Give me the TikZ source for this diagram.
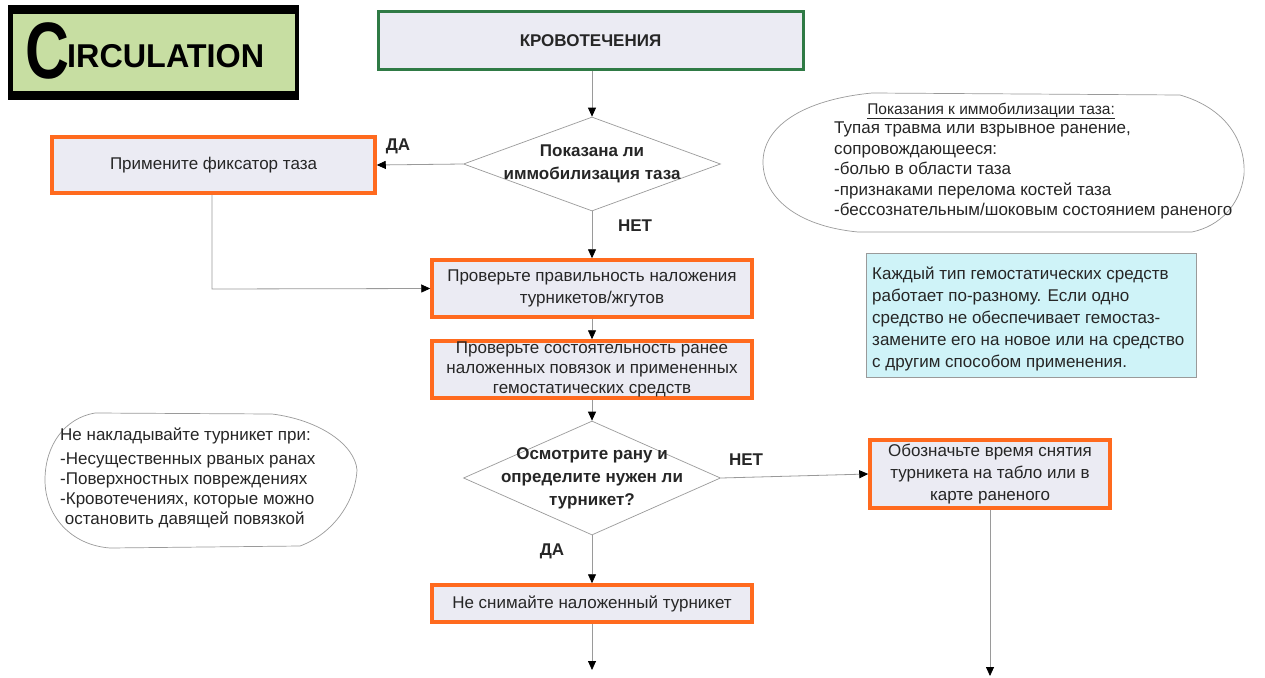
\documentclass[tikz,border=0pt]{standalone}
\usepackage{fontspec}
\usepackage{graphicx}
\setmainfont{Liberation Sans}
\usetikzlibrary{shapes.geometric,arrows.meta}

\definecolor{boxfill}{HTML}{EBEBF3}
\definecolor{orangeedge}{HTML}{FF6A1E}
\definecolor{greenedge}{HTML}{2F7A45}
\definecolor{logofill}{HTML}{C7DEA2}
\definecolor{notefill}{HTML}{CFF3F8}
\definecolor{linegray}{HTML}{9A9A9A}
\definecolor{txt}{HTML}{262626}

\tikzset{
  every node/.style={text=txt, inner sep=0pt},
  stepbox/.style={draw=orangeedge, line width=3.5pt, fill=boxfill, align=center,
    font=\fontsize{17}{22}\selectfont},
  titlebox/.style={draw=greenedge, line width=3pt, fill=boxfill,
    font=\fontsize{17}{20}\selectfont\bfseries},
  decision/.style={diamond, draw=linegray, line width=0.7pt, fill=white},
  decisiontext/.style={align=center, font=\fontsize{17}{23}\selectfont\bfseries},
  answer/.style={font=\fontsize{17}{19}\selectfont\bfseries},
  flow/.style={draw=linegray, line width=0.8pt, -{Triangle[length=9pt,width=8pt,color=black]}},
  note/.style={draw=linegray, line width=0.7pt, fill=white},
  notetext/.style={align=left, font=\fontsize{17}{20.5}\selectfont},
}

\begin{document}
\begin{tikzpicture}[x=1pt,y=-1pt]
  \useasboundingbox (0,0) rectangle (1265,677);
  \fill[white] (0,0) rectangle (1265,677);

  % logo
  \node[fill=black, minimum width=291pt, minimum height=95pt] (logo) at (153,52.5) {};
  \node[fill=logofill, minimum width=282pt, minimum height=76pt] (logoin) at (154,52.5) {};
  \node[anchor=base west, text=black] (logoC) at (25,78)
    {\scalebox{0.76}[1]{\fontsize{80}{80}\selectfont\bfseries C}};
  \node[anchor=base west, text=black] (logoRest) at (67,67)
    {\scalebox{0.98}[1]{\fontsize{33}{33}\selectfont\bfseries IRCULATION}};

  % flow boxes
  \node[titlebox, minimum width=425pt, minimum height=57pt] (title) at (590.5,40.5) {КРОВОТЕЧЕНИЯ};
  \node[decision, minimum width=257pt, minimum height=94pt,
        label={[decisiontext]center:Показана ли\\иммобилизация таза}] (d1) at (592,164) {};
  \node[stepbox, minimum width=323pt, minimum height=56pt] (pelvis) at (213.5,165) {Примените фиксатор таза};
  \node[stepbox, minimum width=320pt, minimum height=57pt] (check1) at (592,288.5)
    {Проверьте правильность наложения\\турникетов/жгутов};
  \node[stepbox, minimum width=320pt, minimum height=57pt, font=\fontsize{17}{20}\selectfont] (check2) at (592,369.5)
    {Проверьте состоятельность ранее\\наложенных повязок и примененных\\гемостатических средств};
  \node[decision, minimum width=257pt, minimum height=114pt,
        label={[decisiontext]center:Осмотрите рану и\\определите нужен ли\\турникет?}] (d2) at (592,478) {};
  \node[stepbox, minimum width=240pt, minimum height=68pt] (mark) at (990,474)
    {Обозначьте время снятия\\турникета на табло или в\\карте раненого};
  \node[stepbox, minimum width=320pt, minimum height=37pt] (keep) at (592,603.5)
    {Не снимайте наложенный турникет};

  \coordinate (endA) at (592,670);
  \coordinate (endB) at (990,676);
  \coordinate (bend) at (212,289);

  % connectors
  \draw[flow] (title.south -| d1.north) -- (d1.north);
  \draw[flow] (d1.west) -- (pelvis.east);
  \draw[flow] (pelvis.south -| bend) -- (bend) -- (check1.west);
  \draw[flow] (d1.south) -- (check1.north);
  \draw[flow] (check1.south) -- (check2.north);
  \draw[flow] (check2.south) -- (d2.north);
  \draw[flow] (d2.east) -- (mark.west);
  \draw[flow] (d2.south) -- (keep.north);
  \draw[flow] (keep.south) -- (endA);
  \draw[flow] (mark.south) -- (endB);

  % answer labels
  \node[answer] (yes1) at (398,146) {ДА};
  \node[answer] (no1) at (635,226) {НЕТ};
  \node[answer] (no2) at (746,460) {НЕТ};
  \node[answer] (yes2) at (552,551) {ДА};

  % pelvic immobilisation note
  \draw[note] (872,93) -- (1180,95) .. controls (1225,108) and (1246,140) .. (1244,175)
    .. controls (1240,205) and (1220,226) .. (1192,232) -- (858,232)
    .. controls (795,226) and (763,196) .. (763,162)
    .. controls (763,128) and (800,100) .. (872,93) -- cycle;
  \node[font=\fontsize{15.5}{18}\selectfont] (pelvisHead) at (991,111) {\underline{Показания к иммобилизации таза:}};
  \node[notetext, anchor=north west] (pelvisBody) at (834,122)
    {Тупая травма или взрывное ранение,\\сопровождающееся:\\-болью в области таза\\-признаками перелома костей таза\\-бессознательным/шоковым состоянием раненого};

  % haemostatic note
  \node[draw=linegray, line width=0.7pt, fill=notefill, minimum width=330pt, minimum height=124pt] (haemo) at (1031,315) {};
  \node[notetext, font=\fontsize{17}{22}\selectfont, anchor=north west] (haemoText) at (872,267)
    {Каждый тип гемостатических средств\\работает по-разному. Если одно\\средство не обеспечивает гемостаз-\\замените его на новое или на средство\\с другим способом применения.};

  % tourniquet contraindications
  \draw[note] (95,413) -- (272,414) .. controls (320,420) and (355,445) .. (357,470)
    .. controls (355,505) and (330,535) .. (300,546) -- (110,548)
    .. controls (70,545) and (45,515) .. (45,480)
    .. controls (45,445) and (65,418) .. (95,413) -- cycle;
  \node[notetext, font=\fontsize{17}{20}\selectfont, anchor=north west] (tqText) at (60,428)
    {Не накладывайте турникет при:\\[4pt]-Несущественных рваных ранах\\-Поверхностных повреждениях\\-Кровотечениях, которые можно\\\ остановить давящей повязкой};
\end{tikzpicture}
\end{document}
